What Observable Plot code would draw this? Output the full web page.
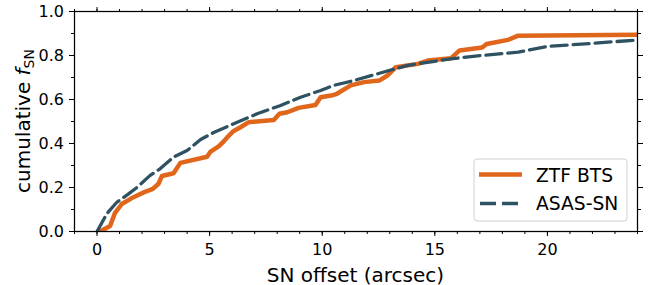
<!DOCTYPE html>
<html><head><meta charset="utf-8">
<script src="https://cdn.jsdelivr.net/npm/d3@7"></script>
<script src="https://cdn.jsdelivr.net/npm/@observablehq/plot@0.6"></script>
<style>body{margin:0;background:#fff} svg{display:block}</style>
</head><body><div id="chart"></div>
<script>
// ZTF BTS cumulative curve
const ztfX = [0.13, 0.58, 0.8, 1.1, 1.62, 2.1, 2.48, 2.73, 2.88, 3.4, 3.7, 4.89, 5.03, 5.4, 5.63, 5.8, 6.07, 6.37, 6.74, 7.85, 8.1, 8.45, 8.95, 9.7, 9.93, 10.4, 10.65, 11.27, 11.86, 12.53, 12.9, 13.27, 14.24, 14.69, 15.72, 16.1, 17.1, 17.3, 18.25, 18.7, 24.5];
const ztfY = [0.0, 0.025, 0.085, 0.125, 0.156, 0.179, 0.194, 0.217, 0.252, 0.265, 0.312, 0.34, 0.362, 0.387, 0.41, 0.43, 0.457, 0.474, 0.497, 0.507, 0.535, 0.542, 0.562, 0.575, 0.61, 0.618, 0.626, 0.664, 0.679, 0.686, 0.709, 0.747, 0.762, 0.777, 0.788, 0.823, 0.836, 0.852, 0.871, 0.89, 0.895];
// ASAS-SN cumulative curve
const asasX = [0.0, 0.43, 0.88, 1.4, 1.77, 2.36, 2.8, 3.4, 4.0, 4.6, 5.18, 6.07, 7.11, 8.15, 9.04, 9.93, 10.5, 11.4, 12.7, 13.8, 15.7, 17.1, 18.7, 20.0, 22.1, 24.04, 24.5];
const asasY = [0.0, 0.08, 0.133, 0.171, 0.2, 0.255, 0.285, 0.338, 0.368, 0.418, 0.45, 0.49, 0.535, 0.573, 0.61, 0.641, 0.664, 0.686, 0.724, 0.755, 0.785, 0.8, 0.815, 0.841, 0.856, 0.871, 0.873];
const seriesNames = ["ZTF BTS", "ASAS-SN"];
const xTicks = [0, 5, 10, 15, 20];
const yTicks = [0, 0.2, 0.4, 0.6, 0.8, 1.0];
const xMinor = d3.range(-1, 25, 1);
const yMinor = d3.range(0, 11).map(i => i / 10);
const xLabel = "SN offset (arcsec)";

const orange = "#e0661c";
const teal = "#2e5262";

const ztf = ztfX.map((x, i) => ({x, y: ztfY[i]}));
const asas = asasX.map((x, i) => ({x, y: asasY[i]}));
const blank = () => "";

const plot = Plot.plot({
  width: 654, height: 285,
  marginLeft: 74, marginRight: 17, marginTop: 11, marginBottom: 54,
  style: {fontFamily: "DejaVu Sans", fontSize: "16px", color: "black", background: "white"},
  x: {domain: [-1, 24], label: null},
  y: {domain: [0, 1], label: null},
  marks: [
    Plot.line(ztf, {x: "x", y: "y", stroke: orange, strokeWidth: 4.5, clip: true, strokeLinejoin: "round"}),
    Plot.line(asas, {x: "x", y: "y", stroke: teal, strokeWidth: 3.3, strokeDasharray: "16,6", clip: true}),
    Plot.axisX(xTicks, {anchor: "bottom", tickSize: 5, tickPadding: 7, label: null, tickFormat: d => String(d)}),
    Plot.axisX(xMinor, {anchor: "bottom", tickSize: 3, label: null, tickFormat: blank}),
    Plot.axisX(xTicks, {anchor: "top", tickSize: 5, label: null, tickFormat: blank}),
    Plot.axisX(xMinor, {anchor: "top", tickSize: 3, label: null, tickFormat: blank}),
    Plot.axisY(yTicks, {anchor: "left", tickSize: 5, tickPadding: 5.5, label: null, tickFormat: d3.format(".1f")}),
    Plot.axisY(yMinor, {anchor: "left", tickSize: 3, label: null, tickFormat: blank}),
    Plot.axisY(yTicks, {anchor: "right", tickSize: 5, label: null, tickFormat: blank}),
    Plot.axisY(yMinor, {anchor: "right", tickSize: 3, label: null, tickFormat: blank}),
    Plot.frame({stroke: "black", strokeWidth: 1.25})
  ]
});

const svg = d3.select(plot);
// x label
svg.append("text").attr("x", 355.5).attr("y", 281.5).attr("text-anchor", "middle")
  .attr("font-size", 20).attr("fill", "black").text(xLabel);
// y label
const yl = svg.append("text").attr("transform", "translate(29.5,121) rotate(-90)")
  .attr("text-anchor", "middle").attr("font-size", 20).attr("fill", "black");
yl.append("tspan").text("cumulative ");
yl.append("tspan").attr("font-style", "italic").text("f");
yl.append("tspan").attr("font-size", 14).attr("dy", 4).text("SN");

// legend
const lg = svg.append("g").attr("text-anchor", "start");
lg.append("rect").attr("x", 474).attr("y", 159).attr("width", 153).attr("height", 62)
  .attr("rx", 3).attr("fill", "white").attr("fill-opacity", 0.85).attr("stroke", "#d0d0d0");
lg.append("line").attr("x1", 479).attr("x2", 522).attr("y1", 174.5).attr("y2", 174.5)
  .attr("stroke", orange).attr("stroke-width", 4.5);
lg.append("line").attr("x1", 480).attr("x2", 522).attr("y1", 203.5).attr("y2", 203.5)
  .attr("stroke", teal).attr("stroke-width", 3.3).attr("stroke-dasharray", "16,6");
lg.append("text").attr("x", 536).attr("y", 181.5).attr("text-anchor", "start").attr("font-size", 18.7).attr("fill", "black").text(seriesNames[0]);
lg.append("text").attr("x", 536).attr("y", 210).attr("text-anchor", "start").attr("font-size", 18.7).attr("fill", "black").text(seriesNames[1]);

document.getElementById("chart").append(plot);
</script>
</body></html>
